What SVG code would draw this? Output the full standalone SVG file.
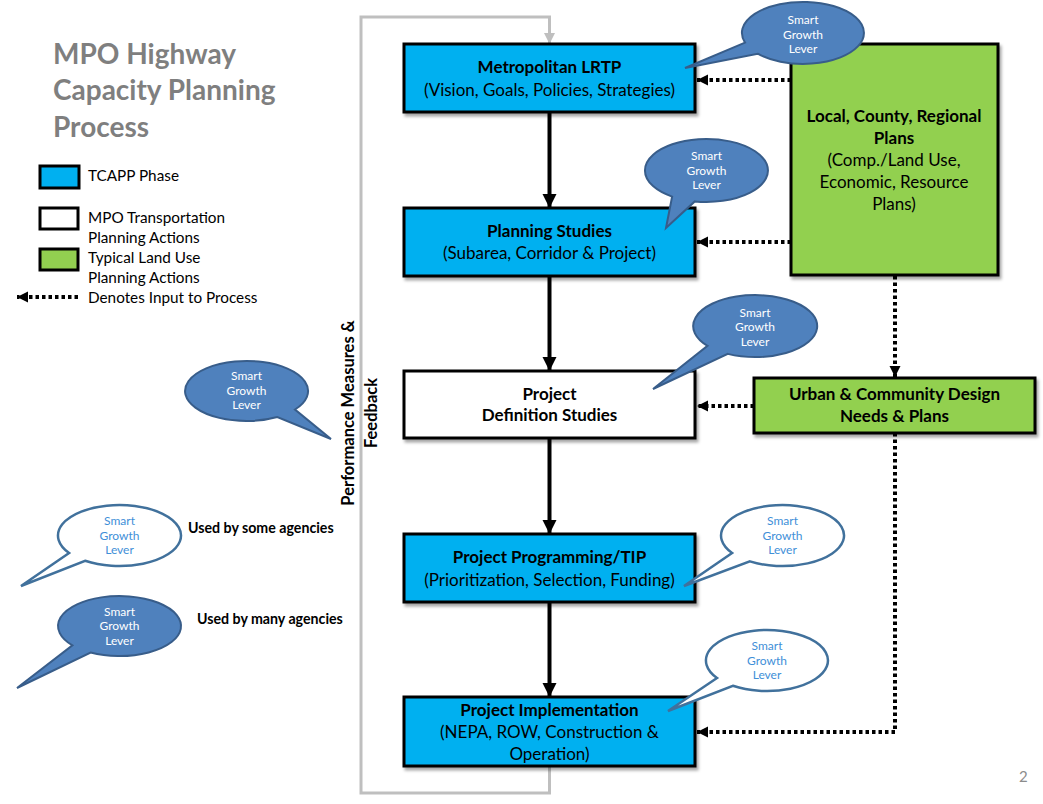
<svg xmlns="http://www.w3.org/2000/svg" width="1043" height="804" viewBox="0 0 1043 804">
<defs>
<style>
text{font-family:Lato,"Open Sans","Liberation Sans",sans-serif}
.title{font-size:28px;font-weight:bold;fill:#7f7f7f}
.leg{font-size:15.3px;fill:#000}
.nb{font-size:17px;font-weight:bold;fill:#000}
.nt{font-size:17px;fill:#000}
.blue{fill:#00b0f0;stroke:#000;stroke-width:3}
.white{fill:#fff;stroke:#000;stroke-width:3}
.green{fill:#92d050;stroke:#000;stroke-width:3}
.solid{stroke:#000;stroke-width:4;fill:none}
.dot{stroke:#000;stroke-width:4;fill:none;stroke-dasharray:3.5 3}
.fb{stroke:#bfbfbf;stroke-width:3;fill:none}
.cf{fill:#4f81bd;stroke:#385d8a;stroke-width:2}
.co{fill:#fff;stroke:#41719c;stroke-width:2.5}
.ct{font-size:12px;fill:#fff;text-anchor:middle}
.cto{font-size:12px;fill:#3f8fd8;text-anchor:middle}
.note{font-size:14.2px;font-weight:bold;fill:#000}
.fbt{font-size:16.5px;font-weight:bold;fill:#000;text-anchor:middle}
</style>
<filter id="sh" x="-10%" y="-10%" width="130%" height="140%">
<feDropShadow dx="2" dy="3" stdDeviation="1.8" flood-color="#000" flood-opacity="0.35"/>
</filter>
<marker id="ah" markerUnits="userSpaceOnUse" markerWidth="16" markerHeight="16" refX="14" refY="8" orient="auto">
<path d="M0,1 L14,8 L0,15 Z" fill="#000"/>
</marker>
<marker id="ad" markerUnits="userSpaceOnUse" markerWidth="12" markerHeight="12" refX="11" refY="6" orient="auto">
<path d="M0,0.5 L11,6 L0,11.5 Z" fill="#000"/>
</marker>
<marker id="ag" markerUnits="userSpaceOnUse" markerWidth="12" markerHeight="12" refX="11" refY="6" orient="auto">
<path d="M0,0.5 L11,6 L0,11.5 Z" fill="#bfbfbf"/>
</marker>
</defs>
<rect width="1043" height="804" fill="#fff"/>

<g id="title">
<text class="title" x="53" y="64">MPO Highway</text>
<text class="title" x="53" y="100">Capacity Planning</text>
<text class="title" x="53" y="137">Process</text>
</g>

<g id="legend">
<rect class="blue" x="40" y="166" width="39" height="22"/>
<text class="leg" x="88" y="181">TCAPP Phase</text>
<rect class="white" x="40" y="208" width="38" height="21"/>
<text class="leg" x="88" y="223">MPO Transportation</text>
<text class="leg" x="88" y="243">Planning Actions</text>
<rect class="green" x="40" y="249" width="38" height="21"/>
<text class="leg" x="88" y="263">Typical Land Use</text>
<text class="leg" x="88" y="283">Planning Actions</text>
<line class="dot" x1="78" y1="297" x2="17" y2="297" marker-end="url(#ad)"/>
<text class="leg" x="88" y="303">Denotes Input to Process</text>
</g>

<g id="connectors">
<line class="solid" x1="549.5" y1="112" x2="549.5" y2="208" marker-end="url(#ah)"/>
<line class="solid" x1="549.5" y1="276" x2="549.5" y2="371" marker-end="url(#ah)"/>
<line class="solid" x1="549.5" y1="438" x2="549.5" y2="534" marker-end="url(#ah)"/>
<line class="solid" x1="549.5" y1="602" x2="549.5" y2="697" marker-end="url(#ah)"/>
<line class="dot" x1="791" y1="80" x2="697" y2="80" marker-end="url(#ad)"/>
<line class="dot" x1="791" y1="242" x2="697" y2="242" marker-end="url(#ad)"/>
<line class="dot" x1="754" y1="406" x2="697" y2="406" marker-end="url(#ad)"/>
<line class="dot" x1="895" y1="276" x2="895" y2="377" marker-end="url(#ad)"/>
<path class="dot" d="M895,433 V732 H697" marker-end="url(#ad)"/>
<path class="fb" d="M549.5,767 V793 H361 V17 H549.5 V44" marker-end="url(#ag)"/>
<text class="fbt" transform="translate(354,413) rotate(-90)">Performance Measures &amp;</text>
<text class="fbt" transform="translate(377,413) rotate(-90)">Feedback</text>
</g>

<g id="lrtp">
<rect class="blue" x="404" y="44" width="291" height="68" filter="url(#sh)"/>
<text class="nb" x="549.5" y="73" text-anchor="middle">Metropolitan LRTP</text>
<text class="nt" x="549.5" y="96" text-anchor="middle">(Vision, Goals, Policies, Strategies)</text>
</g>

<g id="planning">
<rect class="blue" x="404" y="208" width="291" height="68" filter="url(#sh)"/>
<text class="nb" x="549.5" y="237" text-anchor="middle">Planning Studies</text>
<text class="nt" x="549.5" y="259" text-anchor="middle">(Subarea, Corridor &amp; Project)</text>
</g>

<g id="definition">
<rect class="white" x="404" y="371" width="291" height="67" filter="url(#sh)"/>
<text class="nb" x="549.5" y="400" text-anchor="middle" font-weight="600">Project</text>
<text class="nb" x="549.5" y="421" text-anchor="middle" font-weight="600">Definition Studies</text>
</g>

<g id="programming">
<rect class="blue" x="404" y="534" width="291" height="68" filter="url(#sh)"/>
<text class="nb" x="549.5" y="563" text-anchor="middle">Project Programming/TIP</text>
<text class="nt" x="549.5" y="586" text-anchor="middle">(Prioritization, Selection, Funding)</text>
</g>

<g id="implementation">
<rect class="blue" x="404" y="697" width="291" height="69" filter="url(#sh)"/>
<text class="nb" x="549.5" y="716" text-anchor="middle">Project Implementation</text>
<text class="nt" x="549.5" y="738" text-anchor="middle">(NEPA, ROW, Construction &amp;</text>
<text class="nt" x="549.5" y="760" text-anchor="middle">Operation)</text>
</g>

<g id="local-plans">
<rect class="green" x="791" y="44" width="207" height="231" filter="url(#sh)"/>
<text class="nb" x="894" y="122" text-anchor="middle">Local, County, Regional</text>
<text class="nb" x="894" y="144" text-anchor="middle">Plans</text>
<text class="nt" x="894" y="166" text-anchor="middle">(Comp./Land Use,</text>
<text class="nt" x="894" y="188" text-anchor="middle">Economic, Resource</text>
<text class="nt" x="894" y="210" text-anchor="middle">Plans)</text>
</g>

<g id="urban-design">
<rect class="green" x="754" y="378" width="281" height="55" filter="url(#sh)"/>
<text class="nb" x="894.5" y="400" text-anchor="middle">Urban &amp; Community Design</text>
<text class="nb" x="894.5" y="422" text-anchor="middle">Needs &amp; Plans</text>
</g>

<g id="callout-lrtp">
<path class="cf" d="M685,68 L745,42.6 A61,31 0 1 1 757.7,53.7 Z"/>
<text class="ct" x="803" y="24">Smart</text>
<text class="ct" x="803" y="39">Growth</text>
<text class="ct" x="803" y="53">Lever</text>
</g>

<g id="callout-planning">
<path class="cf" d="M666,228 L672.1,196.6 A61.5,31.5 0 1 1 694.8,201.4 Z"/>
<text class="ct" x="706.5" y="160">Smart</text>
<text class="ct" x="706.5" y="175">Growth</text>
<text class="ct" x="706.5" y="189">Lever</text>
</g>

<g id="callout-definition">
<path class="cf" d="M653,389 L707.5,345.9 A62,31 0 1 1 727.8,353.9 Z"/>
<text class="ct" x="755" y="317">Smart</text>
<text class="ct" x="755" y="331">Growth</text>
<text class="ct" x="755" y="346">Lever</text>
</g>

<g id="callout-feedback">
<path class="cf" d="M331,439 L295,409.5 A61.5,30 0 1 0 277.3,417 Z"/>
<text class="ct" x="246.5" y="380">Smart</text>
<text class="ct" x="246.5" y="395">Growth</text>
<text class="ct" x="246.5" y="409">Lever</text>
</g>

<g id="callout-programming">
<path class="co" d="M684,586 L732.1,553 A61.5,30.5 0 1 1 749.9,561.4 Z"/>
<text class="cto" x="782.5" y="525">Smart</text>
<text class="cto" x="782.5" y="540">Growth</text>
<text class="cto" x="782.5" y="554">Lever</text>
</g>

<g id="callout-implementation">
<path class="co" d="M668,711 L717,678 A61,30.5 0 1 1 732.9,685.8 Z"/>
<text class="cto" x="767" y="650">Smart</text>
<text class="cto" x="767" y="665">Growth</text>
<text class="cto" x="767" y="679">Lever</text>
</g>

<g id="key-some">
<path class="co" d="M21,586 L69.1,553 A61.5,30.5 0 1 1 85.1,560.8 Z"/>
<text class="cto" x="119.5" y="525">Smart</text>
<text class="cto" x="119.5" y="540">Growth</text>
<text class="cto" x="119.5" y="554">Lever</text>
<text class="note" x="188" y="533">Used by some agencies</text>
</g>

<g id="key-many">
<path class="cf" d="M17,688 L72.4,645.3 A61.5,30 0 1 1 90.6,652.5 Z"/>
<text class="ct" x="119.5" y="616">Smart</text>
<text class="ct" x="119.5" y="630">Growth</text>
<text class="ct" x="119.5" y="645">Lever</text>
<text class="note" x="197" y="624">Used by many agencies</text>
</g>

<g id="page-number">
<text x="1019" y="782" font-size="15" fill="#8c8c8c">2</text>
</g>
</svg>
